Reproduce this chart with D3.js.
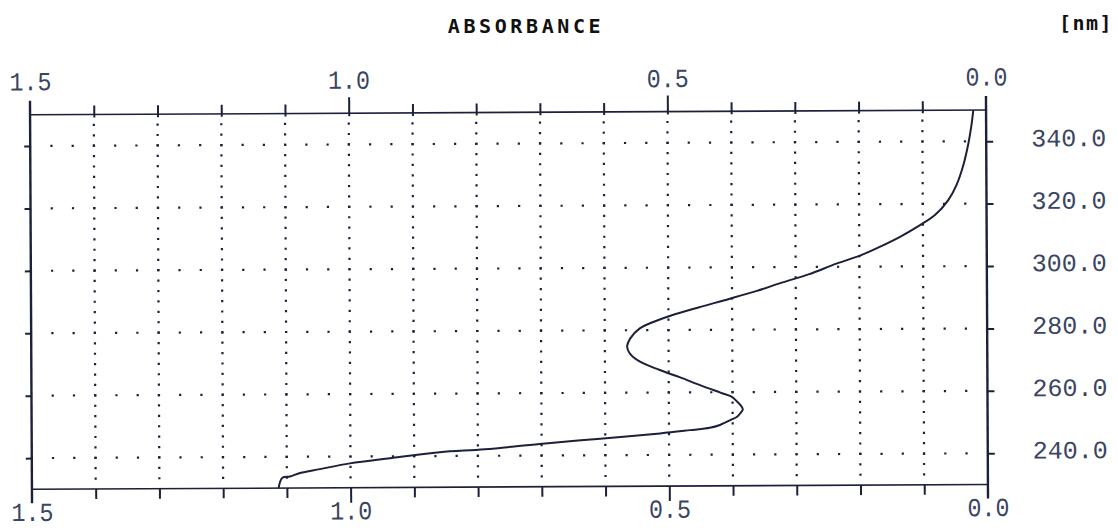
<!DOCTYPE html>
<html>
<head>
<meta charset="utf-8">
<script src="https://cdn.jsdelivr.net/npm/d3@7/dist/d3.min.js"></script>
<style>
  html, body { margin: 0; padding: 0; background: #ffffff; }
  svg { display: block; }
</style>
</head>
<body>
<svg id="chart" width="1118" height="530"></svg>
<script>
// ---- data ----
const wavelengths = [230.0, 233.3, 233.7, 234.8, 236.0, 237.8, 239.4, 241.2, 242.1, 243.7,
  245.3, 246.9, 247.9, 248.6, 249.5, 251.1, 252.1, 253.2, 254.5, 255.9,
  257.0, 258.5, 259.8, 262.3, 264.8, 267.2, 269.9, 272.6, 274.7, 277.4,
  280.6, 282.2, 284.5, 287.2, 289.8, 292.4, 295.0, 297.6, 301.0, 303.7,
  306.4, 309.5, 312.9, 316.4, 321.2, 326.0, 332.4, 339.3, 345.2, 350.0];
const absorbance = [1.113, 1.107, 1.095, 1.079, 1.048, 1.001, 0.938, 0.860, 0.789, 0.703,
  0.608, 0.514, 0.467, 0.436, 0.420, 0.403, 0.393, 0.388, 0.384, 0.388,
  0.393, 0.401, 0.418, 0.451, 0.482, 0.514, 0.545, 0.561, 0.565, 0.560,
  0.545, 0.529, 0.498, 0.453, 0.406, 0.361, 0.322, 0.280, 0.236, 0.197,
  0.167, 0.136, 0.107, 0.081, 0.060, 0.047, 0.036, 0.028, 0.023, 0.020];
const absTickLabels = [1.5, 1.0, 0.5, 0.0];
const absGridLines = [1.4, 1.3, 1.2, 1.1, 1.0, 0.9, 0.8, 0.7, 0.6, 0.5, 0.4, 0.3, 0.2, 0.1];
const nmTicks = [240, 260, 280, 300, 320, 340];
const absDomain = [1.5, 0.0];
const nmDomain = [230, 350];
const titleText = "ABSORBANCE";
const unitText = "[nm]";

// ---- layout ----
const svg = d3.select("#chart");
const pLeft = 31, pRight = 987, pTop = 112.4, pBottom = 486.9;
const x = d3.scaleLinear().domain(absDomain).range([pLeft, pRight]);
const y = d3.scaleLinear().domain(nmDomain).range([pBottom, pTop]);
const ink = "#1c2038";
const numColor = "#3a4562";
const monoFont = "'Liberation Mono', 'DejaVu Sans Mono', monospace";

const g = svg.append("g")
  .attr("transform", `rotate(-0.29, ${(pLeft + pRight) / 2}, ${(pTop + pBottom) / 2})`);

// grid: vertical dotted lines
const vDotNm = d3.range(1, 36).map(k => nmDomain[0] + k * 20 / 6);
absGridLines.forEach(a => {
  g.append("g").selectAll("rect").data(vDotNm).join("rect")
    .attr("x", x(a) - 1.1).attr("y", d => y(d) - 1.1)
    .attr("width", 2.2).attr("height", 2.2).attr("fill", ink);
});
// grid: horizontal dotted rows
const hDotAbs = d3.range(1, 45).map(k => k / 30);
nmTicks.forEach(v => {
  g.append("g").selectAll("rect").data(hDotAbs).join("rect")
    .attr("x", d => x(d) - 1.1).attr("y", y(v) - 1.1)
    .attr("width", 2.2).attr("height", 2.2).attr("fill", ink);
});

// top and bottom frame lines
g.append("line").attr("x1", pLeft).attr("x2", pRight).attr("y1", pTop).attr("y2", pTop)
  .attr("stroke", ink).attr("stroke-width", 1.6);
g.append("line").attr("x1", pLeft).attr("x2", pRight).attr("y1", pBottom).attr("y2", pBottom)
  .attr("stroke", ink).attr("stroke-width", 1.6);

// minor / major ticks on top and bottom via d3 axes
function styleAxis(sel) {
  sel.select(".domain").remove();
  sel.selectAll(".tick line").attr("stroke", ink).attr("stroke-width", 2);
}
const minorVals = absGridLines.filter(a => Math.abs(a - 1.0) > 1e-6 && Math.abs(a - 0.5) > 1e-6);
const majorVals = [1.0, 0.5];
g.append("g").attr("transform", `translate(0,${pTop + 3})`)
  .call(d3.axisTop(x).tickValues(minorVals).tickSize(12).tickFormat(""))
  .call(styleAxis);
g.append("g").attr("transform", `translate(0,${pTop + 3})`)
  .call(d3.axisTop(x).tickValues(majorVals).tickSize(19).tickFormat(""))
  .call(styleAxis);
g.append("g").attr("transform", `translate(0,${pBottom})`)
  .call(d3.axisBottom(x).tickValues(minorVals).tickSize(10).tickFormat(""))
  .call(styleAxis);
g.append("g").attr("transform", `translate(0,${pBottom})`)
  .call(d3.axisBottom(x).tickValues(majorVals).tickSize(15).tickFormat(""))
  .call(styleAxis);

// left and right vertical axes
[pLeft, pRight].forEach(px => {
  g.append("line").attr("x1", px).attr("x2", px).attr("y1", pTop - 14).attr("y2", pBottom + 14)
    .attr("stroke", ink).attr("stroke-width", 2.4);
});
// small ticks on left (outside) and right (outside)
g.append("g").attr("transform", `translate(${pLeft},0)`)
  .call(d3.axisLeft(y).tickValues(nmTicks).tickSize(6).tickFormat(""))
  .call(styleAxis);
const rAxis = g.append("g").attr("transform", `translate(${pRight},0)`)
  .call(d3.axisRight(y).tickValues(nmTicks).tickSize(7).tickPadding(38)
    .tickFormat(d3.format(".1f")));
rAxis.select(".domain").remove();
rAxis.selectAll(".tick line").attr("stroke", ink).attr("stroke-width", 2);
rAxis.selectAll(".tick text")
  .attr("font-family", monoFont)
  .attr("font-size", 25).attr("fill", numColor)
  .attr("dy", "0.2em");

// absorbance labels top & bottom
const fmt = d3.format(".1f");
const topLab = g.append("g").attr("transform", `translate(0,${pTop})`)
  .call(d3.axisTop(x).tickValues(absTickLabels).tickSize(0).tickPadding(24.5).tickFormat(fmt));
const botLab = g.append("g").attr("transform", `translate(0,${pBottom})`)
  .call(d3.axisBottom(x).tickValues(absTickLabels).tickSize(0).tickPadding(14.5).tickFormat(fmt));
[topLab, botLab].forEach(s => {
  s.select(".domain").remove();
  s.selectAll(".tick text")
    .attr("font-family", monoFont)
    .attr("font-size", 26).attr("fill", numColor)
    .attr("textLength", 42).attr("lengthAdjust", "spacingAndGlyphs");
});
topLab.selectAll(".tick text").attr("dy", "0em");
botLab.selectAll(".tick text").attr("dy", "0.66em");

// spectrum curve
const pts = wavelengths.map((w, i) => ({ nm: w, a: absorbance[i] }));
const line = d3.line().x(d => x(d.a)).y(d => y(d.nm)).curve(d3.curveCatmullRom.alpha(0.5));
g.append("path").datum(pts).attr("d", line)
  .attr("fill", "none").attr("stroke", ink).attr("stroke-width", 2);

// titles
svg.append("text").attr("x", 526).attr("y", 33).attr("text-anchor", "middle")
  .attr("font-family", "'DejaVu Sans Mono', monospace").attr("font-weight", "bold")
  .attr("font-size", 20).attr("letter-spacing", 3.6).attr("fill", "#111")
  .text(titleText);
svg.append("text").attr("x", 1086).attr("y", 30).attr("text-anchor", "middle")
  .attr("font-family", "'DejaVu Sans Mono', monospace").attr("font-weight", "bold")
  .attr("font-size", 20).attr("letter-spacing", 1.5).attr("fill", "#111")
  .text(unitText);
</script>
</body>
</html>
